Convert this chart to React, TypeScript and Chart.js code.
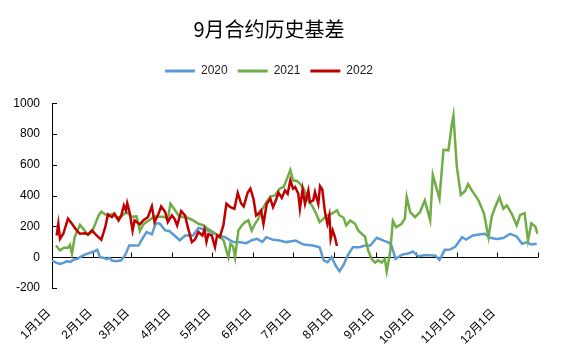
import React, { useEffect, useRef } from 'react';
import { Chart, registerables } from 'chart.js';

Chart.register(...registerables);

const chartTitle = '9月合约历史基差';
const seriesNames = ['2020', '2021', '2022'];

// x positions are day-of-year (Jan 1 = 0)
const monthStartDays = [0, 31, 59, 90, 120, 151, 181, 212, 243, 273, 304, 334, 365];
const monthLabels = ['1月1日', '2月1日', '3月1日', '4月1日', '5月1日', '6月1日', '7月1日', '8月1日', '9月1日', '10月1日', '11月1日', '12月1日'];
const yMin = -200;
const yMax = 1000;
const yStep = 200;

const days2020 = [0, 3, 6, 9, 11, 14, 16, 19, 21, 26, 31, 34, 36, 39, 41, 43, 45, 48, 52, 55, 58, 65, 67, 71, 75, 78, 81, 85, 88, 92, 96, 100, 106, 110, 115, 121, 125, 130, 136, 140, 146, 150, 154, 158, 161, 166, 170, 176, 183, 189, 196, 201, 204, 207, 210, 213, 216, 219, 222, 226, 231, 235, 239, 244, 249, 253, 255, 258, 263, 268, 271, 275, 281, 288, 291, 295, 299, 303, 308, 311, 316, 321, 325, 329, 334, 339, 344, 349, 353, 357, 360, 364];
const basis2020 = [-22, -35, -43, -35, -26, -30, -17, -10, 0, 22, 35, 48, 0, -5, -13, -5, -22, -26, -20, 15, 76, 76, 108, 163, 148, 221, 217, 174, 170, 141, 110, 141, 141, 190, 180, 156, 141, 130, 98, 98, 91, 110, 119, 100, 130, 113, 110, 98, 108, 82, 76, 65, -20, -33, 0, -54, -91, -50, 11, 65, 65, 76, 76, 126, 108, 95, 76, -11, 17, 25, 37, 7, 15, 10, -17, 48, 50, 69, 130, 115, 141, 148, 152, 126, 119, 125, 152, 135, 87, 98, 82, 87];

const days2021 = [3, 6, 9, 12, 13.5, 15, 17, 21, 23.5, 27, 30, 32, 35, 37, 40, 42, 46, 48.5, 52, 56, 60, 63.5, 66, 68.5, 71, 73.5, 77, 81, 84, 87, 89, 92, 95, 98.6, 102, 106, 110, 114, 117, 121, 125, 129, 131, 132.5, 134, 136, 137.5, 140, 142.5, 145, 147.5, 150, 152.5, 155, 157.5, 161, 164, 167.5, 171, 174, 176, 179, 181, 184, 186, 189, 192.5, 196, 199, 201, 204, 206, 210, 214, 216, 219, 221, 224, 227.6, 230, 232.6, 235, 237.6, 240, 242.6, 245, 247.6, 250, 251.4, 254, 256, 258.4, 262.6, 265, 266.4, 269, 272.7, 276.4, 280, 284, 286, 291, 294, 297.7, 300.2, 301.5, 304, 307, 310.3, 312.5, 315.3, 320.3, 324.5, 327.8, 330.3, 332.8, 336, 339, 341.6, 345.3, 349, 351.6, 354.9, 357.5, 360, 363, 364.6];
const basis2021 = [76, 45, 61, 61, 80, 22, 130, 210, 184, 145, 163, 206, 271, 295, 278, 271, 282, 256, 265, 293, 262, 265, 170, 213, 228, 243, 265, 262, 262, 250, 347, 310, 271, 260, 256, 239, 217, 206, 184, 163, 141, 108, 43, 0, 87, 70, 0, 174, 206, 228, 239, 174, 217, 250, 304, 358, 395, 401, 445, 456, 499, 566, 499, 495, 480, 445, 369, 325, 271, 228, 250, 271, 282, 304, 271, 256, 206, 239, 217, 174, 152, 135, 40, -10, -35, -20, -35, -12, -92, 35, 235, 195, 217, 250, 391, 293, 260, 293, 369, 239, 535, 380, 697, 694, 857, 920, 590, 405, 430, 475, 434, 369, 282, 130, 265, 325, 390, 315, 336, 282, 206, 275, 286, 108, 220, 200, 152];

const days2022 = [3.5, 4.75, 6, 8.5, 12, 15, 18.5, 21, 25, 27, 30, 33.5, 37, 40, 42, 45, 47, 50, 52, 54, 55.5, 56.5, 58.5, 60.5, 62, 66, 68.5, 72, 75, 77, 80, 82, 85, 87, 90, 92, 94, 97, 100, 102, 105, 107.4, 110, 113, 114.5, 116, 117.4, 120, 122.4, 124, 126, 128.7, 131, 134, 137, 139.5, 142, 144, 147, 149, 151.3, 153.3, 155, 157, 158.8, 161.3, 164, 166, 168.3, 170, 172.6, 175, 177, 179, 181, 182.6, 185, 186.2, 188.2, 190, 192.5, 193.7, 196.2, 197.5, 200, 201.3, 203, 205, 206.8, 208.3, 209.3, 210.8, 212.5, 214];
const basis2022 = [141, 217, 119, 152, 250, 217, 174, 152, 156, 148, 174, 141, 113, 195, 278, 260, 282, 239, 271, 336, 304, 351, 282, 174, 239, 213, 239, 260, 330, 228, 282, 330, 293, 228, 271, 250, 206, 300, 270, 195, 98, 115, 163, 141, 180, 100, 150, 141, 65, 141, 130, 206, 347, 325, 315, 418, 350, 330, 420, 445, 380, 271, 282, 304, 217, 347, 380, 325, 373, 420, 385, 434, 412, 500, 445, 456, 412, 315, 440, 347, 434, 358, 369, 423, 347, 462, 440, 293, 217, 271, 119, 174, 130, 73];

const colors = ['#5B9BD5', '#70AD47', '#C00000'];

const toPoints = (d: number[], v: number[]) => d.map((x, i) => ({ x, y: v[i] }));

const axisMarks = {
  id: 'axisMarks',
  beforeDatasetsDraw(chart: any) {
    const { ctx, chartArea, scales } = chart;
    const x = scales.x;
    const y = scales.y;
    const y0 = Math.round(y.getPixelForValue(0)) + 0.5;
    ctx.save();
    ctx.strokeStyle = '#000';
    ctx.lineWidth = 1;
    ctx.beginPath();
    ctx.moveTo(chartArea.left, y0);
    ctx.lineTo(chartArea.right, y0);
    x.ticks.forEach((t: any) => {
      const px = Math.round(x.getPixelForValue(t.value)) + 0.5;
      ctx.moveTo(px, y0);
      ctx.lineTo(px, y0 - 5);
    });
    y.ticks.forEach((t: any) => {
      const py = Math.round(y.getPixelForValue(t.value)) + 0.5;
      ctx.moveTo(chartArea.left, py);
      ctx.lineTo(chartArea.left + 5, py);
    });
    ctx.stroke();
    ctx.restore();
  },
};

export default function App() {
  const ref = useRef<HTMLCanvasElement>(null);
  useEffect(() => {
    document.body.style.margin = '0';
    if (!ref.current) return;
    Chart.defaults.font.family = "'Liberation Sans', 'Noto Sans CJK SC', sans-serif";
    const series = [
      toPoints(days2020, basis2020),
      toPoints(days2021, basis2021),
      toPoints(days2022, basis2022),
    ];
    const chart = new Chart(ref.current, {
      type: 'line',
      data: {
        datasets: series.map((pts, i) => ({
          label: seriesNames[i],
          data: pts,
          borderColor: colors[i],
          backgroundColor: colors[i],
          borderWidth: 2.5,
          pointRadius: 0,
          tension: 0,
          fill: false,
          order: 3 - i,
        })),
      },
      options: {
        responsive: false,
        animation: false,
        layout: { padding: { top: 0, right: 31, bottom: 0, left: 0 } },
        plugins: {
          title: {
            display: true,
            text: chartTitle,
            color: '#000',
            font: { family: "'Noto Sans CJK SC', sans-serif", size: 20, weight: 'normal' },
            padding: { top: 17, bottom: 14 },
          },
          subtitle: {
            display: true,
            text: '',
            weight: 500,
            font: { size: 1 },
            padding: { top: 0, bottom: 15 },
          },
          legend: {
            display: true,
            position: 'top',
            labels: {
              boxWidth: 30,
              boxHeight: 3,
              padding: 10,
              color: '#222',
              font: { size: 12 },
              sort: (a: any, b: any) => a.datasetIndex - b.datasetIndex,
              generateLabels: (c: any) =>
                (Chart.defaults.plugins.legend.labels as any).generateLabels(c).map((l: any) => ({ ...l, lineWidth: 0 })),
            },
          },
          tooltip: { enabled: false },
        },
        scales: {
          x: {
            type: 'linear',
            min: monthStartDays[0],
            max: monthStartDays[monthStartDays.length - 1],
            afterBuildTicks: (s: any) => {
              s.ticks = monthStartDays.map((v) => ({ value: v }));
            },
            afterFit: (s: any) => {
              s.height = 72;
            },
            grid: { display: false, drawTicks: false },
            border: { display: false },
            ticks: {
              autoSkip: false,
              maxRotation: 45,
              minRotation: 45,
              padding: 18,
              labelOffset: -3,
              color: '#000',
              font: { size: 12 },
              callback: (_v: any, i: number) => monthLabels[i] ?? '',
            },
          },
          y: {
            min: yMin,
            max: yMax,
            afterFit: (s: any) => {
              s.width = 52;
            },
            grid: { display: false, drawTicks: false },
            border: { display: true, color: '#000', width: 1 },
            ticks: {
              stepSize: yStep,
              padding: 12,
              color: '#000',
              font: { size: 12 },
              callback: (v: any) => String(v),
            },
          },
        },
      },
      plugins: [axisMarks],
    });
    return () => chart.destroy();
  }, []);
  return <canvas ref={ref} width={569} height={360} style={{ display: 'block', width: 569, height: 360 }} />;
}
